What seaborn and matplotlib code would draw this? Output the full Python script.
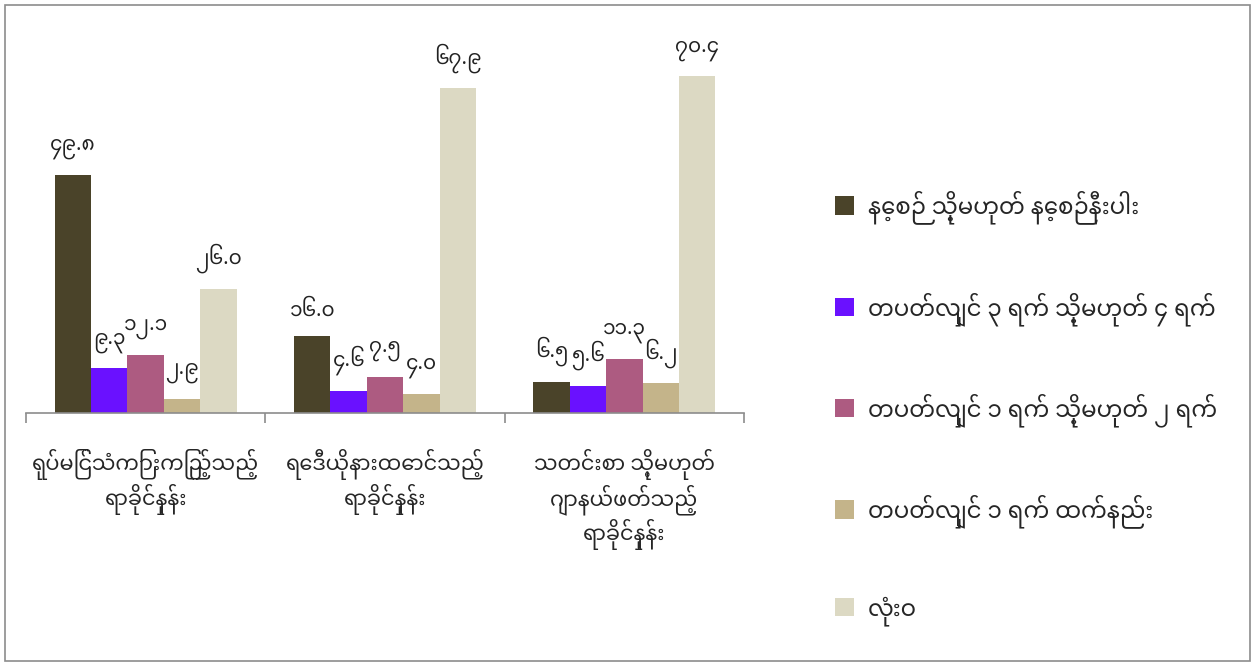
import numpy as np
import pandas as pd
import matplotlib
matplotlib.use("Agg")
import matplotlib.pyplot as plt
import seaborn as sns
from matplotlib.patches import Patch, Rectangle

# Categories (x axis) and the five frequency series
categories = [
    "ရုပ်မြင်သံကြားကြည့်သည့်\nရာခိုင်နှုန်း",
    "ရေဒီယိုနားထောင်သည့်\nရာခိုင်နှုန်း",
    "သတင်းစာ သို့မဟုတ်\nဂျာနယ်ဖတ်သည့်\nရာခိုင်နှုန်း",
]
series = [
    "နေ့စဉ် သို့မဟုတ် နေ့စဉ်နီးပါး",
    "တပတ်လျှင် ၃ ရက် သို့မဟုတ် ၄ ရက်",
    "တပတ်လျှင် ၁ ရက် သို့မဟုတ် ၂ ရက်",
    "တပတ်လျှင် ၁ ရက် ထက်နည်း",
    "လုံးဝ",
]
daily = [49.8, 16.0, 6.5]
three_four = [9.3, 4.6, 5.6]
one_two = [12.1, 7.5, 11.3]
less_one = [2.9, 4.0, 6.2]
never = [26.0, 67.9, 70.4]

colors = ["#4a4329", "#6a11ff", "#ad5b81", "#c4b48a", "#dcd9c3"]

sns.set_theme(style="white")
plt.rcParams["font.family"] = ["Noto Sans Myanmar", "Padauk", "DejaVu Sans"]

df = pd.DataFrame({
    "category": categories * 5,
    "series": [s for s in series for _ in categories],
    "value": daily + three_four + one_two + less_one + never,
})

MM_DIGITS = str.maketrans("0123456789", "၀၁၂၃၄၅၆၇၈၉")


def mm(v):
    return f"{v:.1f}".translate(MM_DIGITS)


fig = plt.figure(figsize=(12.56, 6.66), dpi=100)
ax = fig.add_axes([0.0207, 0.380, 0.5717, 0.605])

sns.barplot(data=df, x="category", y="value", hue="series", order=categories,
            hue_order=series, palette=colors, width=0.76, saturation=1,
            ax=ax, legend=False)

# value labels above each bar, in Myanmar digits
for bar in ax.patches:
    bar.set_linewidth(0)
    h = bar.get_height()
    ax.text(bar.get_x() + bar.get_width() / 2, h + 3.3, mm(h),
            ha="center", va="bottom", fontsize=14.5, color="#222222")

ax.set_xlim(-0.5, 2.5)
ax.set_ylim(0, 84.3)
ax.set_xlabel("")
ax.set_ylabel("")
ax.set_yticks([])
for side in ["top", "right", "left"]:
    ax.spines[side].set_visible(False)
ax.spines["bottom"].set_color("#8c8c8c")
ax.spines["bottom"].set_linewidth(1.2)

ax.set_xticks([0, 1, 2])
ax.set_xticklabels(categories, fontsize=15, linespacing=1.2)
ax.tick_params(axis="x", which="major", length=0, pad=26)
ax.set_xticks([-0.5, 0.5, 1.5, 2.5], minor=True)
ax.tick_params(axis="x", which="minor", length=7, width=1.2,
               color="#8c8c8c", direction="out", bottom=True)

handles = [Patch(facecolor=c, edgecolor="none") for c in colors]
fig.legend(handles, series, loc="upper left", bbox_to_anchor=(0.648, 0.745),
           frameon=False, fontsize=16.5, handlelength=0.85, handleheight=0.85,
           handletextpad=0.6, labelspacing=2.95)

fig.patches.append(Rectangle((0.004, 0.008), 0.991, 0.984,
                             transform=fig.transFigure, fill=False,
                             edgecolor="#8c8c8c", linewidth=1.2))

fig.savefig("out.png", dpi=100)
